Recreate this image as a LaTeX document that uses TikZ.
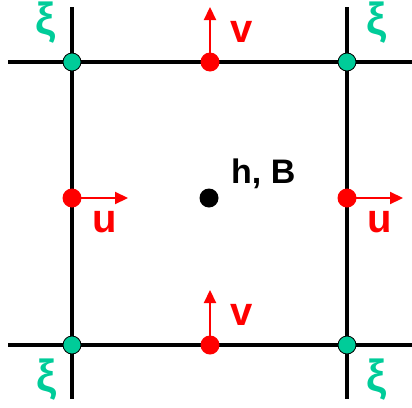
\documentclass[tikz,border=0pt]{standalone}
\usepackage{fontspec}
\setmainfont{Liberation Sans}
\usetikzlibrary{arrows.meta}
\definecolor{xicol}{RGB}{0,204,153}
\definecolor{vred}{RGB}{255,0,0}
\tikzset{
  grid/.style={line width=4.5pt, black},
  xidot/.style={circle, fill=xicol, draw=black, line width=0.8pt, minimum size=18pt, inner sep=0pt},
  reddot/.style={circle, fill=vred, minimum size=19pt, inner sep=0pt},
  blackdot/.style={circle, fill=black, minimum size=19pt, inner sep=0pt},
  vel/.style={vred, line width=2.2pt, -{Triangle[length=13pt,width=12pt]}},
  vlab/.style={text=vred, inner sep=0pt, font=\fontsize{40}{40}\selectfont\bfseries},
  xilab/.style={text=xicol, inner sep=0pt, font=\fontsize{45}{45}\selectfont\bfseries},
  hlab/.style={text=black, inner sep=0pt, font=\fontsize{34}{34}\selectfont\bfseries}
}
\begin{document}
\begin{tikzpicture}[x=1pt,y=-1pt]
\useasboundingbox (0,0) rectangle (412,407);
% grid line ends
\coordinate (tl) at (8,62);
\coordinate (tr) at (412,62);
\coordinate (bl) at (8,345);
\coordinate (br) at (412,345);
\coordinate (lt) at (72,7);
\coordinate (lb) at (72,399);
\coordinate (rt) at (347,7);
\coordinate (rb) at (347,399);
\draw[grid] (tl) -- (tr);
\draw[grid] (bl) -- (br);
\draw[grid] (lt) -- (lb);
\draw[grid] (rt) -- (rb);
% xi nodes
\node[xidot] (x1) at (72,62) {};
\node[xidot] (x2) at (347,62) {};
\node[xidot] (x3) at (72,345) {};
\node[xidot] (x4) at (347,345) {};
\node[xilab] (xl1) at (46,23) {ξ};
\node[xilab] (xl2) at (377,23) {ξ};
\node[xilab] (xl3) at (47,380) {ξ};
\node[xilab] (xl4) at (377,380) {ξ};
% v points
\node[reddot] (vt) at (210,62) {};
\node[reddot] (vb) at (210,345) {};
\coordinate (vtend) at (210,7);
\coordinate (vbend) at (210,290);
\draw[vel] (vt.center) -- (vtend);
\draw[vel] (vb.center) -- (vbend);
\node[vlab] (vtl) at (242,32) {v};
\node[vlab] (vbl) at (242,315) {v};
% u points
\node[reddot] (ul) at (72,198) {};
\node[reddot] (ur) at (347,198) {};
\coordinate (ulend) at (128,198);
\coordinate (urend) at (403,198);
\draw[vel] (ul.center) -- (ulend);
\draw[vel] (ur.center) -- (urend);
\node[vlab] (ull) at (105,222) {u};
\node[vlab] (url) at (380,222) {u};
% center
\node[blackdot] (c) at (209,198) {};
\node[hlab, anchor=base west] (hb) at (231,183) {h, B};
\end{tikzpicture}
\end{document}
